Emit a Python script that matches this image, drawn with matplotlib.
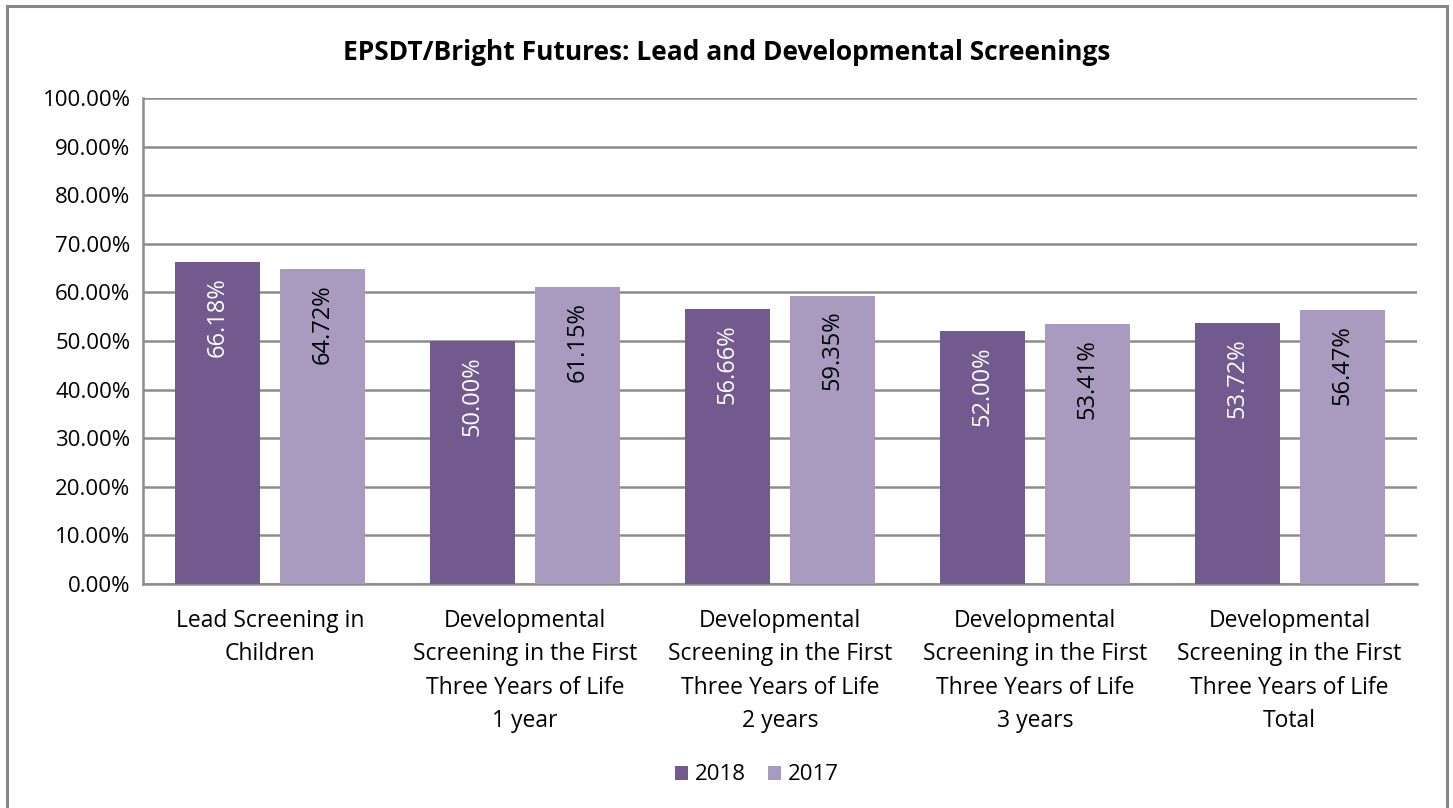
import matplotlib
matplotlib.use("Agg")
import matplotlib.pyplot as plt
from matplotlib.patches import Rectangle
import numpy as np

plt.rcParams['font.family'] = ['Open Sans', 'DejaVu Sans']

categories = [
    "Lead Screening in\nChildren",
    "Developmental\nScreening in the First\nThree Years of Life\n1 year",
    "Developmental\nScreening in the First\nThree Years of Life\n2 years",
    "Developmental\nScreening in the First\nThree Years of Life\n3 years",
    "Developmental\nScreening in the First\nThree Years of Life\nTotal",
]
series_names = ["2018", "2017"]
values_2018 = [66.18, 50.00, 56.66, 52.00, 53.72]
values_2017 = [64.72, 61.15, 59.35, 53.41, 56.47]
yticks = [0, 10, 20, 30, 40, 50, 60, 70, 80, 90, 100]

c2018 = "#72598E"
c2017 = "#A99BBF"
grid_c = "#8C8C8C"
fs = 16

fig = plt.figure(figsize=(14.53, 8.08), dpi=100)
ax = fig.add_axes([143/1453, 1-584/808, (1417-143)/1453, (584-98)/808])

x = np.arange(len(categories))
w = 0.334
off = 0.206
b1 = ax.bar(x - off, values_2018, w, color=c2018, label=series_names[0], zorder=3)
b2 = ax.bar(x + off, values_2017, w, color=c2017, label=series_names[1], zorder=3)

for bars, vals, tc in ((b1, values_2018, "white"), (b2, values_2017, "black")):
    for r, v in zip(bars, vals):
        ax.annotate(f"{v:.2f}%", (r.get_x() + r.get_width()/2, v),
                    xytext=(0, -11), textcoords="offset points",
                    rotation=90, ha="center", va="top", color=tc,
                    fontsize=17, zorder=4)

ax.set_xlim(-0.5, len(categories) - 0.5)
ax.set_ylim(0, 100)
ax.set_yticks(yticks)
ax.set_yticklabels([f"{t:.2f}%" for t in yticks], fontsize=fs)
ax.set_xticks(x)
ax.set_xticklabels(categories, fontsize=16.5, linespacing=1.52, va="top")
ax.tick_params(axis="y", length=0, pad=9)
ax.tick_params(axis="x", length=0, pad=18)
ax.yaxis.grid(True, color=grid_c, linewidth=1.8, zorder=0)
ax.set_axisbelow(True)
for s in ["top", "right"]:
    ax.spines[s].set_visible(False)
for s in ["left", "bottom"]:
    ax.spines[s].set_color(grid_c)
    ax.spines[s].set_linewidth(1.8)

fig.text(0.5, 1-52/808, "EPSDT/Bright Futures: Lead and Developmental Screenings",
         ha="center", va="center", fontsize=19, fontweight="bold")

fig.legend(handles=[b1, b2], labels=series_names, loc="center",
           bbox_to_anchor=(757/1453, 1-775/808), ncol=2, frameon=False,
           fontsize=fs, handlelength=0.6, handleheight=0.6, handletextpad=0.3,
           columnspacing=1.0)

frame = Rectangle((7/1453, -0.05), (1447-7)/1453, (1-6/808) + 0.05,
                  transform=fig.transFigure, fill=False, edgecolor="#878787",
                  linewidth=2.2, clip_on=False)
fig.patches.append(frame)

fig.savefig("out.png", dpi=100)
